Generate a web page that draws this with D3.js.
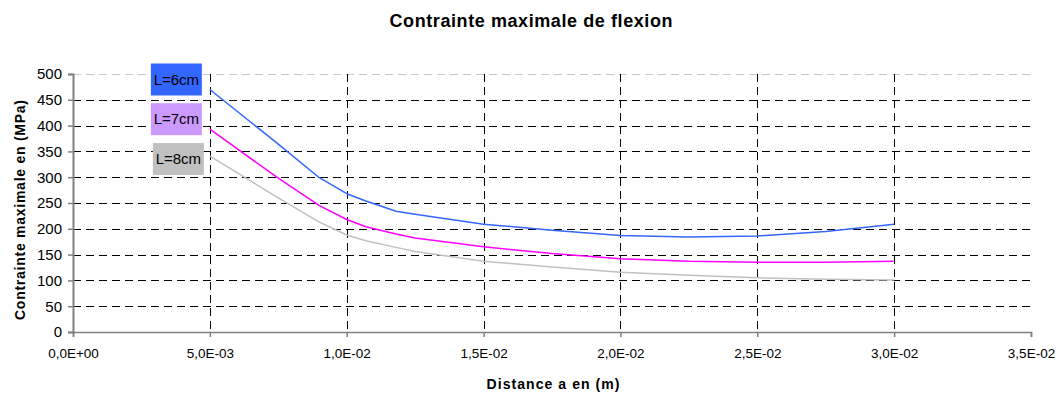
<!DOCTYPE html>
<html>
<head>
<meta charset="utf-8">
<script src="https://cdn.jsdelivr.net/npm/d3@7"></script>
<style>
  html, body { margin: 0; padding: 0; background: #fff; }
  svg { display: block; font-family: "Liberation Sans", Arial, sans-serif; }
</style>
</head>
<body>
<svg id="chart" width="1062" height="394"></svg>
<script>
// Distance a (m) at which the stress was evaluated
const distances = [0.005, 0.0075, 0.009, 0.01, 0.0107, 0.0118, 0.0125, 0.015, 0.0175, 0.02, 0.0225, 0.025, 0.0275, 0.03];
// Maximum bending stress (MPa) for each beam length
const stressL6 = [470, 364, 299, 268, 254, 234, 228, 209, 197, 187, 184, 186, 195, 209];
const stressL7 = [393, 298, 245, 218, 204, 190, 182, 165, 152, 142, 137, 135, 135, 137];
const stressL8 = [341, 260, 213, 188, 177, 164, 156, 137, 126, 116, 110, 105, 102, 101];
const seriesNames = ["L=6cm", "L=7cm", "L=8cm"];
const xTicks = [0, 0.005, 0.01, 0.015, 0.02, 0.025, 0.03, 0.035];
const xTickLabels = ["0,0E+00", "5,0E-03", "1,0E-02", "1,5E-02", "2,0E-02", "2,5E-02", "3,0E-02", "3,5E-02"];
const yTicks = [0, 50, 100, 150, 200, 250, 300, 350, 400, 450, 500];

const svg = d3.select("#chart");
const plotLeft = 73, plotRight = 1031, plotTop = 74, plotBottom = 332;

const x = d3.scaleLinear().domain([0, 0.035]).range([plotLeft, plotRight]);
const y = d3.scaleLinear().domain([0, 500]).range([plotBottom, plotTop]);

// Title
svg.append("text")
  .attr("x", 531).attr("y", 27)
  .attr("text-anchor", "middle")
  .attr("font-size", 18).attr("font-weight", "bold")
  .attr("textLength", 283).attr("lengthAdjust", "spacing")
  .text("Contrainte maximale de flexion");

// Horizontal dashed grid
svg.append("g").selectAll("line").data(yTicks.filter(d => d > 0)).join("line")
  .attr("x1", plotLeft).attr("x2", plotRight)
  .attr("y1", d => Math.round(y(d)) + 0.5).attr("y2", d => Math.round(y(d)) + 0.5)
  .attr("stroke", d => d === 500 ? "#c8c8c8" : "#000")
  .attr("stroke-width", 1)
  .attr("stroke-dasharray", "8,5");

// Vertical dashed grid
svg.append("g").selectAll("line").data(xTicks.filter(d => d > 0 && d < 0.035)).join("line")
  .attr("x1", d => Math.round(x(d)) + 0.5).attr("x2", d => Math.round(x(d)) + 0.5)
  .attr("y1", plotTop).attr("y2", plotBottom)
  .attr("stroke", "#000")
  .attr("stroke-width", 1)
  .attr("stroke-dasharray", "8,5");

// Y axis
const yAxis = d3.axisLeft(y).tickValues(yTicks).tickSize(5).tickPadding(6).tickFormat(d3.format("d"));
const gy = svg.append("g").attr("transform", `translate(${plotLeft},0)`).call(yAxis);
gy.select(".domain").attr("stroke", "#808080").attr("stroke-width", 2);
gy.selectAll(".tick line").attr("stroke", "#808080").attr("stroke-width", 1.5);
gy.selectAll(".tick text").attr("font-size", 15).attr("fill", "#000")
  .attr("font-family", "Liberation Sans, Arial, sans-serif");

// X axis
const xAxis = d3.axisBottom(x).tickValues(xTicks).tickSize(5).tickPadding(11)
  .tickFormat((d, i) => xTickLabels[i]);
const gx = svg.append("g").attr("transform", `translate(0,${plotBottom})`).call(xAxis);
gx.select(".domain").attr("stroke", "#808080").attr("stroke-width", 1.5);
gx.selectAll(".tick line").attr("stroke", "#808080").attr("stroke-width", 1.5);
gx.selectAll(".tick text").attr("font-size", 13.5).attr("fill", "#000")
  .attr("font-family", "Liberation Sans, Arial, sans-serif");

// Axis titles
svg.append("text")
  .attr("x", 553).attr("y", 389)
  .attr("text-anchor", "middle")
  .attr("font-size", 14).attr("font-weight", "bold")
  .attr("textLength", 133).attr("lengthAdjust", "spacing")
  .text("Distance a en (m)");

svg.append("text")
  .attr("transform", "translate(25,210) rotate(-90)")
  .attr("text-anchor", "middle")
  .attr("font-size", 14).attr("font-weight", "bold")
  .attr("textLength", 220).attr("lengthAdjust", "spacing")
  .text("Contrainte maximale en (MPa)");

// Series
const series = [
  { name: seriesNames[0], values: stressL6, color: "#3366ff", box: "#3366ff", dy: -10, dx: 0 },
  { name: seriesNames[1], values: stressL7, color: "#ff00ff", box: "#cc99ff", dy: -10, dx: 0 },
  { name: seriesNames[2], values: stressL8, color: "#c0c0c0", box: "#c0c0c0", dy: 3, dx: 2 }
];

const line = d3.line()
  .x((d, i) => x(distances[i]))
  .y(d => y(d));

svg.append("g").selectAll("path").data(series).join("path")
  .attr("d", s => line(s.values))
  .attr("fill", "none")
  .attr("stroke", s => s.color)
  .attr("stroke-width", 1.5)
  .attr("stroke-linejoin", "round");

// Series name labels next to the first point
const labels = svg.append("g").selectAll("g").data(series).join("g")
  .attr("transform", s => `translate(${x(distances[0]) - 8 + s.dx},${y(s.values[0]) + s.dy})`);
labels.append("rect")
  .attr("x", -51).attr("y", -16).attr("width", 51).attr("height", 32)
  .attr("fill", s => s.box);
labels.append("text")
  .attr("x", -25.5).attr("y", 0)
  .attr("dy", "0.35em")
  .attr("text-anchor", "middle")
  .attr("font-size", 15)
  .attr("fill", "#000")
  .text(s => s.name);
</script>
</body>
</html>
